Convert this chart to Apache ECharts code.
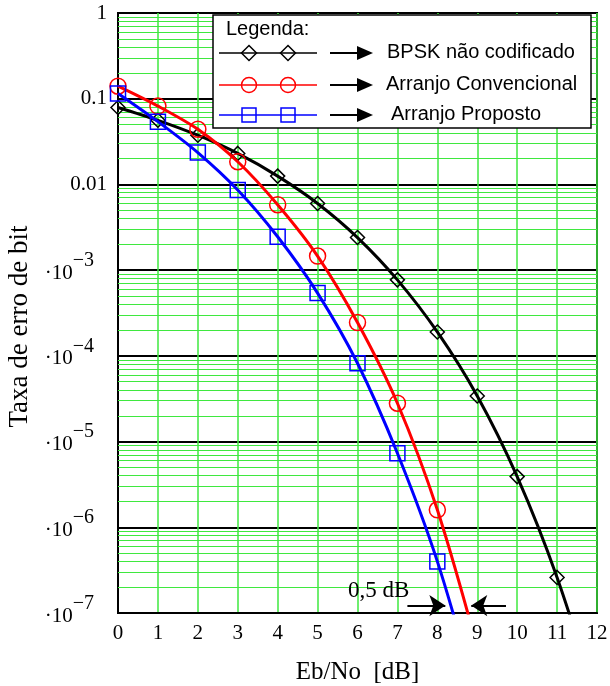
<!DOCTYPE html>
<html>
<head>
<meta charset="utf-8">
<script src="https://cdn.jsdelivr.net/npm/echarts@6/dist/echarts.min.js"></script>
<style>
  html, body { margin: 0; padding: 0; background: #fff; }
  #chart { width: 610px; height: 686px; }
</style>
</head>
<body>
<div id="chart"></div>
<script>
// Eb/No (dB)
const ebno = [0, 1, 2, 3, 4, 5, 6, 7, 8, 9, 10, 11, 12];
// taxa de erro de bit (ultimo ponto de cada curva cai abaixo de 1e-7, so leva a linha ate a borda)
const bpsk = [0.079, 0.056, 0.0375, 0.023, 0.0125, 0.006, 0.0024, 7.7e-4, 1.9e-4, 3.4e-5, 3.9e-6, 2.6e-7, 9e-9];
const convencional = [0.14, 0.082, 0.044, 0.0184, 0.0058, 0.00146, 2.45e-4, 2.8e-5, 1.6e-6, 4e-8];
const proposto = [0.115, 0.054, 0.0235, 0.0086, 0.00245, 5.4e-4, 8.2e-5, 7.3e-6, 4.0e-7, 1e-8];
const nomes = ['BPSK não codificado', 'Arranjo Convencional', 'Arranjo Proposto'];
// decadas do eixo y e subdivisoes (linhas verdes)
const decadas = [-7, -6, -5, -4, -3, -2, -1];
const subdiv = [2, 3, 4, 5, 6, 7, 8, 9];

const serif = '"Liberation Serif", "Times New Roman", serif';
const sans = '"Liberation Sans", Arial, sans-serif';
const verde = '#3fe83f';

const pares = (arr) => arr.map((v, i) => [ebno[i], v]);

const linhasMenores = [];
decadas.forEach((e) => {
  subdiv.forEach((m) => linhasMenores.push({ yAxis: m * Math.pow(10, e) }));
});

const chart = echarts.init(document.getElementById('chart'));

// legenda desenhada a mao (linha + 2 marcadores + seta + texto)
const legX = 213, legY = 15;
const linhasLeg = [53, 85, 115];
const coresLeg = ['#000', '#ff0000', '#0000ff'];
const textoX = [387, 386, 391];
const legenda = [
  { type: 'rect', shape: { x: legX, y: legY, width: 378, height: 113 },
    style: { fill: '#fff', stroke: '#000', lineWidth: 1.5 }, z: 100 },
  { type: 'text', x: 226, y: 19, z: 101,
    style: { text: 'Legenda:', font: '20px ' + sans, fill: '#000' } }
];
linhasLeg.forEach((cy, i) => {
  const c = coresLeg[i];
  legenda.push({ type: 'line', z: 101, shape: { x1: 219, y1: cy, x2: 317, y2: cy },
    style: { stroke: c, lineWidth: 1.5 } });
  [249, 288].forEach((cx) => {
    let m;
    if (i === 0) {
      m = { type: 'polygon', shape: { points: [[cx, cy - 7.5], [cx + 7.5, cy], [cx, cy + 7.5], [cx - 7.5, cy]] } };
    } else if (i === 1) {
      m = { type: 'circle', shape: { cx: cx, cy: cy, r: 7.5 } };
    } else {
      m = { type: 'rect', shape: { x: cx - 7, y: cy - 7, width: 14, height: 14 } };
    }
    m.z = 102;
    m.style = { fill: 'none', stroke: c, lineWidth: 1.5 };
    legenda.push(m);
  });
  legenda.push({ type: 'line', z: 101, shape: { x1: 330, y1: cy, x2: 360, y2: cy },
    style: { stroke: '#000', lineWidth: 2 } });
  legenda.push({ type: 'polygon', z: 101, shape: { points: [[357, cy - 7], [373, cy], [357, cy + 7]] },
    style: { fill: '#000' } });
  legenda.push({ type: 'text', x: textoX[i], y: cy - 11, z: 101,
    style: { text: nomes[i], font: '20px ' + sans, fill: '#000' } });
});

const option = {
  animation: false,
  backgroundColor: '#fff',
  grid: {
    left: 118, right: 13, top: 13, bottom: 73,
    show: true, borderColor: '#000', borderWidth: 2, backgroundColor: '#fff',
    outerBoundsMode: 'none'
  },
  xAxis: {
    type: 'value', min: 0, max: 12, interval: 1,
    name: 'Eb/No  [dB]', nameLocation: 'middle', nameGap: 47,
    nameTextStyle: { fontFamily: serif, fontSize: 25, color: '#000' },
    axisLine: { show: true, onZero: false, lineStyle: { color: '#000', width: 2 } },
    axisTick: { show: false },
    axisLabel: { margin: 10, fontFamily: serif, fontSize: 21, color: '#000' },
    splitLine: { show: true, lineStyle: { color: verde, width: 1.5 } }
  },
  yAxis: {
    type: 'log', logBase: 10, min: 1e-7, max: 1,
    name: 'Taxa de erro de bit', nameLocation: 'middle', nameGap: 82,
    nameTextStyle: { fontFamily: serif, fontSize: 27, color: '#000', padding: [0, 27, 0, 0] },
    axisLine: { show: true, lineStyle: { color: '#000', width: 2 } },
    axisTick: { show: false },
    axisLabel: {
      margin: 11, fontFamily: serif, fontSize: 21, color: '#000',
      formatter: (v) => {
        const e = Math.round(Math.log10(v));
        if (e >= -2) return e === 0 ? '1' : (e === -1 ? '0.1' : '0.01');
        return '{num|·10}{sup|−' + (-e) + '}';
      },
      rich: {
        num: { fontFamily: serif, fontSize: 21, color: '#000', padding: [12, 0, 6, 0], verticalAlign: 'bottom' },
        sup: { fontFamily: serif, fontSize: 20, color: '#000', padding: [0, 13, 0, 0], verticalAlign: 'top' }
      }
    },
    splitLine: { show: true, lineStyle: { color: '#000', width: 2 } }
  },
  series: [
    {
      // linhas menores da grade (2..9 de cada decada)
      type: 'line', data: [], silent: true, symbol: 'none', z: 1,
      markLine: {
        z: 1, silent: true, precision: 12, symbol: ['none', 'none'], label: { show: false },
        lineStyle: { color: verde, width: 1.2, type: 'solid' },
        data: linhasMenores
      }
    },
    {
      name: nomes[0], type: 'line', data: pares(bpsk), smooth: 0.3, clip: true,
      symbol: 'diamond', symbolSize: 14, showAllSymbol: true,
      lineStyle: { color: '#000', width: 3 },
      itemStyle: { color: 'rgba(0,0,0,0)', borderColor: '#000', borderWidth: 1.5 }, z: 3
    },
    {
      name: nomes[1], type: 'line', data: pares(convencional), smooth: 0.3, clip: true,
      symbol: 'circle', symbolSize: 16, showAllSymbol: true,
      lineStyle: { color: '#ff0000', width: 3 },
      itemStyle: { color: 'rgba(0,0,0,0)', borderColor: '#ff0000', borderWidth: 1.5 }, z: 4
    },
    {
      name: nomes[2], type: 'line', data: pares(proposto), smooth: 0.3, clip: true,
      symbol: 'rect', symbolSize: 15, showAllSymbol: true,
      lineStyle: { color: '#0000ff', width: 3 },
      itemStyle: { color: 'rgba(0,0,0,0)', borderColor: '#0000ff', borderWidth: 1.5 }, z: 5
    },
    {
      // setas do "0,5 dB"
      type: 'line', data: [], silent: true, symbol: 'none', z: 6,
      markLine: {
        z: 6, silent: true, precision: 12, symbol: ['none', 'arrow'], symbolSize: 16, label: { show: false },
        lineStyle: { color: '#000', width: 2, type: 'solid' },
        data: [
          [{ coord: [7.25, 1.22e-7] }, { coord: [8.2, 1.22e-7] }],
          [{ coord: [9.72, 1.22e-7] }, { coord: [8.85, 1.22e-7] }]
        ]
      }
    }
  ],
  graphic: [
    { type: 'text', x: 348, y: 579, z: 50,
      style: { text: '0,5 dB', font: '23px ' + serif, fill: '#000' } },
    ...legenda
  ]
};

chart.setOption(option);
window.addEventListener('resize', () => chart.resize());
</script>
</body>
</html>
